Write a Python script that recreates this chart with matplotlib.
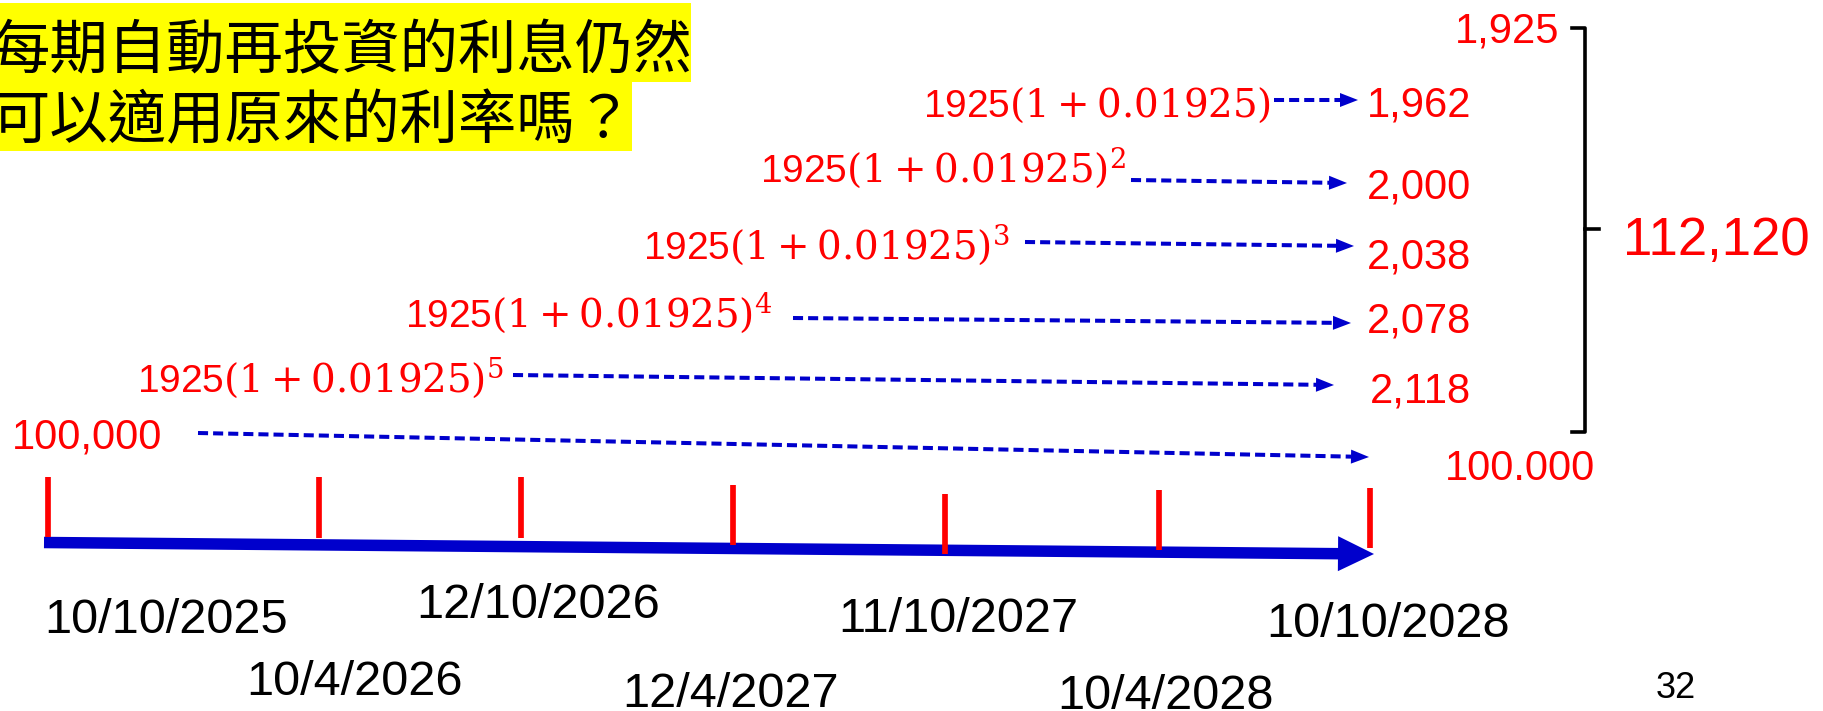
import matplotlib
matplotlib.use("Agg")
import numpy as np
import matplotlib.pyplot as plt
from matplotlib.patches import Rectangle, FancyArrow, Polygon

plt.rcParams['font.family'] = ['Liberation Sans', 'DejaVu Sans']
# serif maths with a sans \mathsf for the leading coupon amount
plt.rcParams['mathtext.fontset'] = 'custom'
plt.rcParams['mathtext.rm'] = 'DejaVu Serif'
plt.rcParams['mathtext.it'] = 'DejaVu Serif:italic'
plt.rcParams['mathtext.sf'] = 'Liberation Sans'
plt.rcParams['mathtext.default'] = 'rm'

# --- values ---
title_lines = ['每期自動再投資的利息仍然', '可以適用原來的利率嗎？']
principal = 100000
coupon = 1925
rate = 0.01925
reinvested = [1962, 2000, 2038, 2078, 2118]   # coupon grown 1..5 periods
total = 112120
maturity_label = '100.000'
pay_dates = ['10/10/2025', '10/4/2026', '12/10/2026', '12/4/2027',
             '11/10/2027', '10/4/2028', '10/10/2028']
page_no = '32'

# --- layout (pixel space, y grows downward) ---
W, H = 1824, 711
tick_x = [48, 319, 521, 733, 945, 1159, 1370]
tick_top = [477, 477, 477, 485, 494, 490, 488]
tick_bot = [537, 538, 538, 545, 554, 550, 548]
date_xy = [(166, 633), (355, 695), (538, 618), (731, 707),
           (958, 632), (1166, 709), (1388, 637)]

formula_x = [923, 760, 643, 405, 137]
formula_y = [117, 182, 259, 326, 391]
arrow_from = [(1274, 100), (1131, 180), (1025, 242), (793, 318), (513, 375)]
arrow_to = [(1358, 100), (1347, 183), (1354, 246), (1351, 323), (1334, 385)]
value_xy = [(1367, 117), (1367, 198), (1367, 268), (1367, 333), (1370, 403)]

RED = '#FF0000'
BLUE = '#0000CC'

fig = plt.figure(figsize=(W / 100, H / 100), dpi=100)
ax = fig.add_axes([0, 0, 1, 1])
ax.set_xlim(0, W)
ax.set_ylim(H, 0)
ax.axis('off')

# title on yellow highlight
ax.add_patch(Rectangle((0, 3), 691, 79, color='#FFFF00', lw=0))
ax.add_patch(Rectangle((0, 82), 632, 69, color='#FFFF00', lw=0))
for txt, y in zip(title_lines, [68, 138]):
    ax.text(-8, y, txt, fontsize=42, va='baseline', ha='left', color='black',
            family=['Noto Sans CJK TC', 'DejaVu Sans'])


def dashed_arrow(p0, p1, lw=2.9, head_len=18, head_w=14):
    p0 = np.array(p0, float)
    p1 = np.array(p1, float)
    u = (p1 - p0) / np.linalg.norm(p1 - p0)
    n = np.array([-u[1], u[0]])
    base = p1 - head_len * u
    ax.plot([p0[0], base[0]], [p0[1], base[1]], color=BLUE, lw=lw,
            linestyle=(0, (2.5, 1.25)), dash_capstyle='butt', zorder=3)
    ax.add_patch(Polygon([p1, base + n * head_w / 2, base - n * head_w / 2],
                         closed=True, color=BLUE, lw=0, zorder=3))


# timeline
ax.add_patch(FancyArrow(44, 542.5, 1330, 11.5, width=11.5, head_width=35,
                        head_length=36, length_includes_head=True,
                        color=BLUE, lw=0, zorder=2))
ax.vlines(tick_x, tick_top, tick_bot, colors=RED, lw=4.1, zorder=4)
for d, (x, y) in zip(pay_dates, date_xy):
    ax.text(x, y, d, fontsize=35, ha='center', va='baseline', color='black')

# reinvested coupons
for k in range(len(reinvested)):
    power = '' if k == 0 else '^{%d}' % (k + 1)
    ax.text(formula_x[k], formula_y[k],
            r'$\mathsf{%d}(1+%s)%s$' % (coupon, rate, power),
            fontsize=28, color=RED, ha='left', va='baseline')
    dashed_arrow(arrow_from[k], arrow_to[k])
    vx, vy = value_xy[k]
    ax.text(vx, vy, f'{reinvested[k]:,}', fontsize=30, color=RED,
            ha='left', va='baseline')

# principal
ax.text(12, 449, f'{principal:,}', fontsize=30, color=RED, ha='left', va='baseline')
dashed_arrow((198, 433), (1369, 457))
ax.text(1445, 480, maturity_label, fontsize=30, color=RED, ha='left', va='baseline')

# first coupon and the total
ax.text(1455, 42, f'{coupon:,}', fontsize=30, color=RED, ha='left', va='baseline')
ax.plot([1572, 1585, 1585, 1572], [28, 28, 432, 432], color='black', lw=2.6,
        solid_joinstyle='round')
ax.plot([1585, 1599], [229, 229], color='black', lw=2.6)
ax.text(1623, 255, f'{total:,}', fontsize=38, color=RED, ha='left', va='baseline')

ax.text(1676, 698, page_no, fontsize=26, color='black', ha='center', va='baseline')

fig.savefig('out.png', dpi=100)
